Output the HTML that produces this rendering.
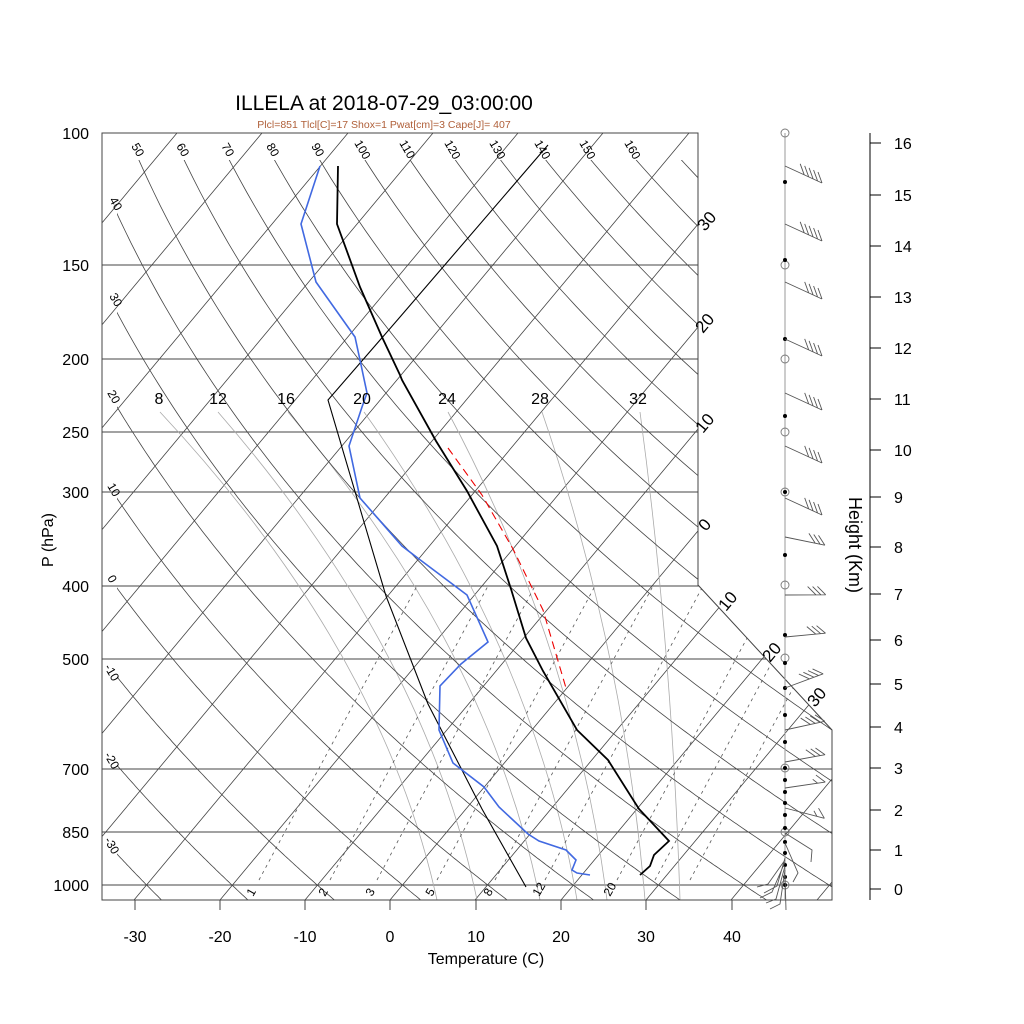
<!DOCTYPE html>
<html><head><meta charset="utf-8"><style>
body{margin:0;background:#fff;}
svg{display:block;font-family:"Liberation Sans",sans-serif;}
</style></head><body>
<svg width="1024" height="1024" viewBox="0 0 1024 1024" xmlns="http://www.w3.org/2000/svg">
<defs>
<clipPath id="c"><polygon points="102,133 698,133 698,585 832,730 832,900 102,900"/></clipPath>
<clipPath id="c2"><polygon points="117,160 698,160 698,585 832,730 832,900 117,900"/></clipPath>
<g id="b5" stroke="#555" stroke-width="0.9" fill="none">
<path d="M0,0 L37,17 M37,17 l-4,-11 M32.6,15 l-4,-11 M28.1,12.9 l-4,-11 M23.7,10.9 l-4,-11 M19.2,8.8 l-4,-11"/></g>
<g id="b4" stroke="#555" stroke-width="0.9" fill="none">
<path d="M0,0 L37,17 M37,17 l-4,-11 M32.6,15 l-4,-11 M28.1,12.9 l-4,-11 M23.7,10.9 l-4,-11"/></g>
<g id="b3" stroke="#555" stroke-width="0.9" fill="none">
<path d="M0,0 L37,17 M37,17 l-4,-11 M32.6,15 l-4,-11 M28.1,12.9 l-4,-11"/></g>
<g id="b2" stroke="#555" stroke-width="0.9" fill="none">
<path d="M0,0 L37,17 M37,17 l-4,-11 M30,13.8 l-2,-6"/></g>
</defs>

<text x="384" y="110" font-size="21" text-anchor="middle">ILLELA at 2018-07-29_03:00:00</text>
<text x="384" y="128" font-size="10.5" text-anchor="middle" fill="#b0603a">Plcl=851 Tlcl[C]=17 Shox=1 Pwat[cm]=3 Cape[J]= 407</text>

<g clip-path="url(#c)" fill="none">
<g stroke="#444" stroke-width="1">
<path d="M102,265H900M102,359H900M102,432H900M102,492H900M102,586H900M102,659H900M102,769H900M102,832H900M102,885H900"/>
</g>
<g stroke="#444" stroke-width="0.8">
<path d="M-548,900L92,133M-463,900L177,133M-378,900L262,133M-292,900L348,133M-207,900L433,133M-122,900L518,133M-37,900L603,133M49,900L689,133M134,900L774,133M220,900L860,133M305,900L945,133M390,900L1030,133M475,900L1115,133M561,900L1201,133M646,900L1286,133M731,900L1371,133M817,900L1457,133"/>
</g>
<g stroke="#aaa" stroke-width="0.8">
<path d="M160,412Q382,650 437,900M218,412Q425,650 477,900M288,412Q490,650 540,900M364,412Q534,650 577,900M448,412Q575,650 607,900M542,412Q624,650 645,900M640,412Q672,650 680,900"/>
</g>
<g stroke="#555" stroke-width="0.8" stroke-dasharray="3,4">
<path d="M259,880L417,586M330,880L488,586M377,880L535,586M437,880L595,586M495,880L653,586M545,880L703,586M617,880L775,586M655,880L813,586M690,880L848,586"/>
</g>
</g>
<g clip-path="url(#c2)" fill="none"><path id="dry" stroke="#444" stroke-width="0.8" d=""/></g>

<polygon points="102,133 698,133 698,585 832,730 832,900 102,900" fill="none" stroke="#444" stroke-width="1"/>

<polyline fill="none" stroke="#000" stroke-width="1.1" points="526,887 482,809 428,704 386,596 364,522 328,400 400,317 548,145"/>
<polyline fill="none" stroke="#000" stroke-width="1.8" points="338,166 337,224 360,287 382,337 400,375 402,380 436,441 467,491 497,546 511,589 526,638 543,671 577,730 608,760 639,809 669,841 654,855 650,866 640,875"/>
<polyline fill="none" stroke="#4169e1" stroke-width="1.6" points="320,166 301,224 316,282 355,337 360,360 367,393 362,407 349,446 360,498 402,546 419,559 467,595 488,642 461,664 440,686 439,730 453,763 484,787 499,807 528,834 539,841 566,850 576,860 572,870 577,873 590,875"/>
<polyline fill="none" stroke="#e00" stroke-width="1.1" stroke-dasharray="8,5" points="448,448 482,495 513,549 543,610 566,688"/>

<g font-size="16" text-anchor="middle">
<text x="159" y="404">8</text><text x="218" y="404">12</text><text x="286" y="404">16</text><text x="362" y="404">20</text><text x="447" y="404">24</text><text x="540" y="404">28</text><text x="638" y="404">32</text>
</g>
<g font-size="12">
<text transform="translate(131,146) rotate(60)">50</text>
<text transform="translate(176,146) rotate(60)">60</text>
<text transform="translate(221,146) rotate(60)">70</text>
<text transform="translate(266,146) rotate(60)">80</text>
<text transform="translate(311,146) rotate(60)">90</text>
<text transform="translate(354,143) rotate(60)">100</text>
<text transform="translate(399,143) rotate(60)">110</text>
<text transform="translate(444,143) rotate(60)">120</text>
<text transform="translate(489,143) rotate(60)">130</text>
<text transform="translate(534,143) rotate(60)">140</text>
<text transform="translate(579,143) rotate(60)">150</text>
<text transform="translate(624,143) rotate(60)">160</text>
<text transform="translate(109,200) rotate(60)">40</text>
<text transform="translate(109,296) rotate(60)">30</text>
<text transform="translate(107,393) rotate(60)">20</text>
<text transform="translate(107,486) rotate(60)">10</text>
<text transform="translate(107,578) rotate(60)">0</text>
<text transform="translate(104,667) rotate(60)">-10</text>
<text transform="translate(104,755) rotate(60)">-20</text>
<text transform="translate(104,840) rotate(60)">-30</text>
</g>
<g font-size="12">
<text transform="translate(253,897) rotate(-60)">1</text>
<text transform="translate(325,897) rotate(-60)">2</text>
<text transform="translate(372,897) rotate(-60)">3</text>
<text transform="translate(432,897) rotate(-60)">5</text>
<text transform="translate(490,897) rotate(-60)">8</text>
<text transform="translate(539,897) rotate(-60)">12</text>
<text transform="translate(610,897) rotate(-60)">20</text>
</g>
<g font-size="17">
<text transform="translate(705,232) rotate(-50)">30</text>
<text transform="translate(703,334) rotate(-50)">20</text>
<text transform="translate(703,434) rotate(-50)">10</text>
<text transform="translate(706,532) rotate(-50)">0</text>
<text transform="translate(726,612) rotate(-50)">10</text>
<text transform="translate(770,663) rotate(-50)">20</text>
<text transform="translate(815,708) rotate(-50)">30</text>
</g>

<g font-size="16" text-anchor="end">
<text x="89" y="139">100</text><text x="89" y="271">150</text><text x="89" y="365">200</text><text x="89" y="438">250</text><text x="89" y="498">300</text><text x="89" y="592">400</text><text x="89" y="665">500</text><text x="89" y="775">700</text><text x="89" y="838">850</text><text x="89" y="891">1000</text>
</g>
<text transform="translate(53,540) rotate(-90)" font-size="16" text-anchor="middle">P (hPa)</text>

<g stroke="#444" stroke-width="1"><path d="M135,900V910M220,900V910M305,900V910M390,900V910M476,900V910M561,900V910M646,900V910M732,900V910"/></g>
<g font-size="16" text-anchor="middle">
<text x="135" y="942">-30</text><text x="220" y="942">-20</text><text x="305" y="942">-10</text><text x="390" y="942">0</text><text x="476" y="942">10</text><text x="561" y="942">20</text><text x="646" y="942">30</text><text x="732" y="942">40</text>
</g>
<text x="486" y="964" font-size="16" text-anchor="middle">Temperature (C)</text>

<line x1="785" y1="133" x2="785" y2="900" stroke="#999" stroke-width="1"/>
<g fill="none" stroke="#777" stroke-width="0.9">
<circle cx="785" cy="133" r="4"/><circle cx="785" cy="265" r="4"/><circle cx="785" cy="359" r="4"/><circle cx="785" cy="432" r="4"/><circle cx="785" cy="492" r="4"/><circle cx="785" cy="585" r="4"/><circle cx="785" cy="658" r="4"/><circle cx="785" cy="768" r="4"/><circle cx="785" cy="832" r="4"/><circle cx="785" cy="885" r="4"/>
</g>
<g fill="#000">
<circle cx="785" cy="182" r="2"/><circle cx="785" cy="260" r="2"/><circle cx="785" cy="339" r="2"/><circle cx="785" cy="416" r="2"/><circle cx="785" cy="492" r="2"/><circle cx="785" cy="555" r="2"/><circle cx="785" cy="635" r="2"/><circle cx="785" cy="663" r="2"/><circle cx="785" cy="688" r="2"/><circle cx="785" cy="715" r="2"/><circle cx="785" cy="742" r="2"/><circle cx="785" cy="768" r="2"/><circle cx="785" cy="780" r="2"/><circle cx="785" cy="792" r="2"/><circle cx="785" cy="803" r="2"/><circle cx="785" cy="815" r="2"/><circle cx="785" cy="828" r="2"/><circle cx="785" cy="842" r="2"/><circle cx="785" cy="853" r="2"/><circle cx="785" cy="865" r="2"/><circle cx="785" cy="877" r="2"/><circle cx="785" cy="885" r="2"/>
</g>
<use href="#b5" transform="translate(785,166)"/>
<use href="#b5" transform="translate(785,224)"/>
<use href="#b4" transform="translate(785,282)"/>
<use href="#b4" transform="translate(785,339)"/>
<use href="#b4" transform="translate(785,393)"/>
<use href="#b4" transform="translate(785,446)"/>
<use href="#b4" transform="translate(785,498)"/>
<use href="#b3" transform="translate(785,537) rotate(-13)"/>
<use href="#b3" transform="translate(785,595) rotate(-25)"/>
<use href="#b3" transform="translate(785,637) rotate(-30)"/>
<use href="#b4" transform="translate(785,688) rotate(-45)"/>
<use href="#b4" transform="translate(785,730) rotate(-37)"/>
<use href="#b3" transform="translate(785,762) rotate(-35)"/>
<use href="#b2" transform="translate(785,788) rotate(-33)"/>
<use href="#b2" transform="translate(785,808) rotate(-10)"/>
<g fill="none" stroke="#555" stroke-width="0.9">
<path d="M785,833L812,850L811,862M785,843L798,873L793,882M785,858L777,886L764,893M785,862L772,892L760,898M785,866L776,899L766,903M785,870L780,904L770,909M785,875L786,910M785,860L768,884L757,887"/>
</g>

<line x1="870" y1="133" x2="870" y2="900" stroke="#000" stroke-width="1"/>
<g stroke="#000" stroke-width="1"><path d="M870,143H881M870,195H881M870,246H881M870,297H881M870,348H881M870,399H881M870,450H881M870,497H881M870,547H881M870,594H881M870,640H881M870,684H881M870,727H881M870,768H881M870,810H881M870,850H881M870,889H881"/></g>
<g font-size="16">
<text x="894" y="149">16</text><text x="894" y="201">15</text><text x="894" y="252">14</text><text x="894" y="303">13</text><text x="894" y="354">12</text><text x="894" y="405">11</text><text x="894" y="456">10</text><text x="894" y="503">9</text><text x="894" y="553">8</text><text x="894" y="600">7</text><text x="894" y="646">6</text><text x="894" y="690">5</text><text x="894" y="733">4</text><text x="894" y="774">3</text><text x="894" y="816">2</text><text x="894" y="856">1</text><text x="894" y="895">0</text>
</g>
<text transform="translate(849,545) rotate(90)" font-size="18" text-anchor="middle">Height (Km)</text>
</svg>
<script>
(function(){
var d="";
for(var th=-30;th<=180;th+=10){
  var K=th+273.15,s="";
  for(var p=1060;p>=95;p-=5){
    var y=885-326.6*Math.log(1000/p);
    var T=K*Math.pow(p/1000,0.286)-273.15;
    var x=390+8.53*T+0.835*(900-y);
    s+=(s?"L":"M")+x.toFixed(1)+","+y.toFixed(1);
  }
  d+=s;
}
document.getElementById("dry").setAttribute("d",d);
})();
</script>
</body></html>
